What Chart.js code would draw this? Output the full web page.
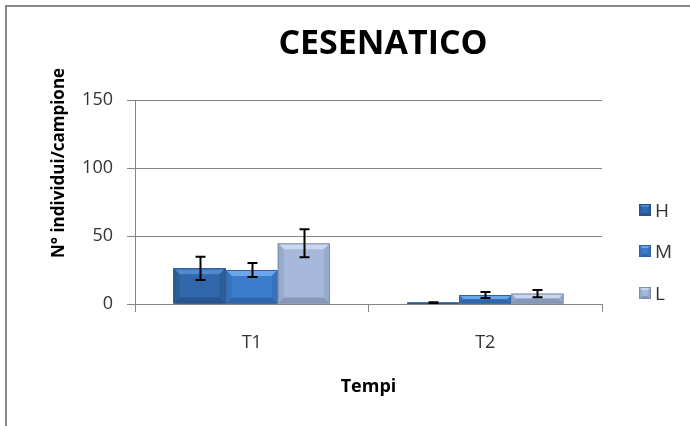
<!DOCTYPE html>
<html><head><meta charset="utf-8">
<script src="https://cdn.jsdelivr.net/npm/chart.js@4/dist/chart.umd.min.js"></script>
<style>html,body{margin:0;padding:0;background:#fff;overflow:hidden;} #wrap{position:relative;width:690px;height:426px;}</style>
</head><body><div id="wrap"><canvas id="c" width="690" height="426"></canvas></div>
<script>
// ---- data ----
const categories = ['T1', 'T2'];
const seriesNames = ['H', 'M', 'L'];
const valuesH = [26.2, 1];
const valuesM = [25, 6.6];
const valuesL = [44.6, 7.6];
const errorsH = [8.5, 0.3];
const errorsM = [5.1, 2.2];
const errorsL = [10.3, 2.7];
const yTicks = [0, 50, 100, 150];
const chartTitle = 'CESENATICO';
const yTitle = 'N° individui/campione';
const xTitle = 'Tempi';

// ---- styles ----
const FONT = '"Open Sans", "DejaVu Sans", sans-serif';
const styles = [
  {body:'#3167ab', top:'#5089cc', side:'#2c5e9c', bottom:'#28558c', stroke:'#27508a'},
  {body:'#3c7ccc', top:'#6aa6e9', side:'#3672be', bottom:'#3067ab', stroke:'#2f609f'},
  {body:'#a7b9db', top:'#cbd7ee', side:'#99abcd', bottom:'#8898b8', stroke:'#7f8ead'}
];
const values = [valuesH, valuesM, valuesL];
const errors = [errorsH, errorsM, errorsL];

function bevel(ctx, left, top, right, bottom, b, st) {
  b = Math.min(b, (bottom - top) / 2, (right - left) / 2);
  ctx.save();
  ctx.fillStyle = st.body; ctx.fillRect(left, top, right - left, bottom - top);
  const poly = (pts, c) => { ctx.beginPath(); ctx.moveTo(pts[0][0], pts[0][1]); for (let i = 1; i < pts.length; i++) ctx.lineTo(pts[i][0], pts[i][1]); ctx.closePath(); ctx.fillStyle = c; ctx.fill(); };
  if (b > 0.5) {
    poly([[left, top], [right, top], [right - b, top + b], [left + b, top + b]], st.top);
    poly([[left, bottom], [right, bottom], [right - b, bottom - b], [left + b, bottom - b]], st.bottom);
    poly([[left, top], [left + b, top + b], [left + b, bottom - b], [left, bottom]], st.side);
    poly([[right, top], [right - b, top + b], [right - b, bottom - b], [right, bottom]], st.side);
  }
  ctx.strokeStyle = st.stroke; ctx.lineWidth = 1;
  ctx.strokeRect(left + 0.5, top + 0.5, right - left - 1, Math.max(bottom - top - 1, 0));
  ctx.restore();
}

const decor = {
  id: 'decor',
  beforeDraw(chart) {
    const ctx = chart.ctx;
    ctx.save();
    ctx.fillStyle = '#fff'; ctx.fillRect(0, 0, chart.width, chart.height);
    ctx.strokeStyle = '#878787'; ctx.lineWidth = 2;
    ctx.strokeRect(6, 6, 1000, 1000);
    ctx.restore();
  },
  afterDatasetsDraw(chart) {
    const ctx = chart.ctx;
    const yScale = chart.scales.y;
    chart.data.datasets.forEach((ds, di) => {
      const meta = chart.getDatasetMeta(di);
      meta.data.forEach((el, i) => {
        const w = el.width;
        bevel(ctx, el.x - w / 2, Math.min(el.y, el.base), el.x + w / 2, Math.max(el.y, el.base), 6, styles[di]);
      });
    });
    ctx.save();
    ctx.strokeStyle = '#000'; ctx.lineWidth = 2;
    chart.data.datasets.forEach((ds, di) => {
      const meta = chart.getDatasetMeta(di);
      meta.data.forEach((el, i) => {
        const v = ds.data[i], e = errors[di][i];
        const yt = yScale.getPixelForValue(v + e), yb = yScale.getPixelForValue(v - e);
        const x = Math.round(el.x) + 0.5, cw = 5;
        ctx.beginPath();
        ctx.moveTo(x, yt); ctx.lineTo(x, yb);
        ctx.moveTo(x - cw, yt); ctx.lineTo(x + cw, yt);
        ctx.moveTo(x - cw, yb); ctx.lineTo(x + cw, yb);
        ctx.stroke();
      });
    });
    ctx.restore();
  },
  afterDraw(chart) {
    const ctx = chart.ctx;
    ctx.save();
    // chart title
    ctx.fillStyle = '#000';
    ctx.font = 'bold 34px ' + FONT;
    ctx.textAlign = 'center'; ctx.textBaseline = 'alphabetic';
    ctx.fillText(chartTitle, 383, 54);
    // y title
    ctx.save();
    ctx.translate(64, 163); ctx.rotate(-Math.PI / 2);
    ctx.font = 'bold 17px ' + FONT;
    ctx.textAlign = 'center'; ctx.textBaseline = 'alphabetic';
    ctx.fillText(yTitle, 0, 0);
    ctx.restore();
    // legend
    const ys = [216, 257, 299];
    chart.data.datasets.forEach((ds, di) => {
      bevel(ctx, 639, ys[di] - 12, 651, ys[di], 3, styles[di]);
      ctx.fillStyle = '#333';
      ctx.font = '19px ' + FONT;
      ctx.textAlign = 'left'; ctx.textBaseline = 'alphabetic';
      ctx.fillText(ds.label, 655, ys[di] + 1);
    });
    ctx.restore();
  }
};

new Chart(document.getElementById('c'), {
  type: 'bar',
  data: {
    labels: categories,
    datasets: seriesNames.map((n, i) => ({
      label: n, data: values[i], backgroundColor: styles[i].body, borderWidth: 0
    }))
  },
  options: {
    responsive: false, animation: false,
    layout: {padding: {left: 0, right: 88, top: 100, bottom: 0}},
    datasets: {bar: {categoryPercentage: 0.67, barPercentage: 1}},
    plugins: {legend: {display: false}, title: {display: false}, tooltip: {enabled: false}},
    scales: {
      x: {
        grid: {display: true, drawOnChartArea: false, drawTicks: true, tickLength: 8, color: '#868686', offset: true},
        border: {color: '#868686'},
        ticks: {font: {family: FONT, size: 18}, color: '#333', padding: 20},
        title: {display: true, text: xTitle, font: {family: FONT, size: 18, weight: 'bold'}, color: '#000', padding: {top: 0, bottom: 28}},
        afterFit(s) { s.height = 122; }
      },
      y: {
        min: 0, max: 150,
        afterBuildTicks(s) { s.ticks = yTicks.map(v => ({value: v})); },
        ticks: {font: {family: FONT, size: 18}, color: '#333', padding: 14},
        grid: {color: '#868686', tickLength: 8},
        border: {color: '#868686'},
        afterFit(s) { s.width = 135; }
      }
    }
  },
  plugins: [decor]
});
</script>
</body></html>
